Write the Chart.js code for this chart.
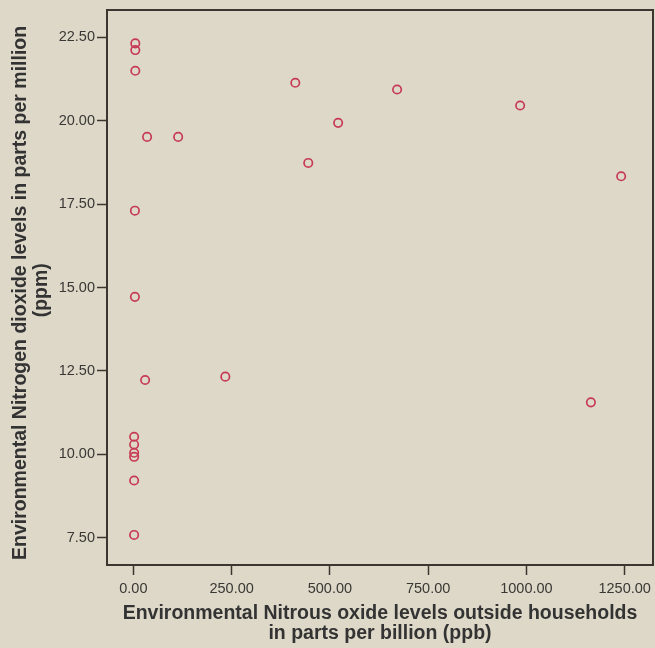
<!DOCTYPE html>
<html>
<head>
<meta charset="utf-8">
<title>NO2 vs Nitrous oxide</title>
<script src="https://cdn.jsdelivr.net/npm/chart.js@4.4.1/dist/chart.umd.min.js"></script>
<style>
    html, body { margin: 0; padding: 0; background: #ddd8c8; }
    #wrap { width: 655px; height: 648px; }
</style>
</head>
<body>
<div id="wrap"><canvas id="scatterChart" width="655" height="648"></canvas></div>
<script>
// values
const noxPpb = [5, 5, 5, 35, 114, 4, 4, 30, 234, 412, 445, 521, 671, 984, 1241, 1164, 2, 2, 2, 2, 2, 2];
const no2Ppm = [22.31, 22.11, 21.49, 19.51, 19.51, 17.30, 14.72, 12.23, 12.33, 21.13, 18.73, 19.93, 20.93, 20.45, 18.33, 11.56, 10.53, 10.30, 10.05, 9.93, 9.22, 7.59];
const xTicks = [0, 250, 500, 750, 1000, 1250];
const yTicks = [7.5, 10, 12.5, 15, 17.5, 20, 22.5];

const frameColor = '#3b3630';
const textColor = '#3a3835';
const fontFamily = 'Liberation Sans, Arial, sans-serif';

// box around the plot area
const frame = {
    id: 'frame',
    afterDatasetsDraw(chart) {
        const { ctx, chartArea: a } = chart;
        ctx.save();
        ctx.strokeStyle = frameColor;
        ctx.lineWidth = 2;
        ctx.strokeRect(a.left, a.top, a.right - a.left, a.bottom - a.top);
        ctx.restore();
    }
};

document.addEventListener("DOMContentLoaded", () => {
    const ctx = document.getElementById('scatterChart').getContext('2d');
    new Chart(ctx, {
        type: 'scatter',
        data: {
            datasets: [{
                data: noxPpb.map((x, i) => ({ x: x, y: no2Ppm[i] })),
                borderColor: '#c73a55',
                backgroundColor: 'rgba(0,0,0,0)',
                borderWidth: 1.7,
                pointRadius: 4.2,
                pointHoverRadius: 4.2
            }]
        },
        options: {
            responsive: false,
            animation: false,
            layout: { autoPadding: false, padding: { top: 10, right: 2, left: 0, bottom: 0 } },
            plugins: { legend: { display: false }, tooltip: { enabled: false } },
            scales: {
                x: {
                    type: 'linear',
                    min: -67,
                    max: 1322,
                    afterBuildTicks: s => { s.ticks = xTicks.map(v => ({ value: v })); },
                    afterFit: s => { s.height = 83; s.paddingLeft = 0; s.paddingRight = 0; },
                    border: { display: false },
                    grid: { drawOnChartArea: false, drawTicks: true, tickLength: 10, color: frameColor, tickWidth: 1.5 },
                    ticks: {
                        padding: 5,
                        color: textColor,
                        font: { family: fontFamily, size: 14.5 },
                        callback: v => Number(v).toFixed(2)
                    },
                    title: {
                        display: true,
                        text: ['Environmental Nitrous oxide levels outside households', 'in parts per billion (ppb)'],
                        color: '#333',
                        font: { family: fontFamily, size: 19.5, weight: 'bold', lineHeight: 1.03 },
                        padding: { top: 0, bottom: 4 }
                    }
                },
                y: {
                    type: 'linear',
                    min: 6.69,
                    max: 23.31,
                    afterBuildTicks: s => { s.ticks = yTicks.map(v => ({ value: v })); },
                    afterFit: s => { s.width = 107; s.paddingTop = 0; s.paddingBottom = 0; },
                    border: { display: false },
                    grid: { drawOnChartArea: false, drawTicks: true, tickLength: 10, color: frameColor, tickWidth: 1.5 },
                    ticks: {
                        padding: 2,
                        color: textColor,
                        font: { family: fontFamily, size: 14.5 },
                        callback: v => Number(v).toFixed(2)
                    },
                    title: {
                        display: true,
                        // trailing spaces nudge the rotated title a little lower, like the original
                        text: ['Environmental Nitrogen dioxide levels in parts per million  ', '(ppm) '],
                        color: '#333',
                        font: { family: fontFamily, size: 19.5, weight: 'bold', lineHeight: 1.03 },
                        padding: { top: 11, bottom: 0 }
                    }
                }
            }
        },
        plugins: [frame]
    });
});
</script>
</body>
</html>
